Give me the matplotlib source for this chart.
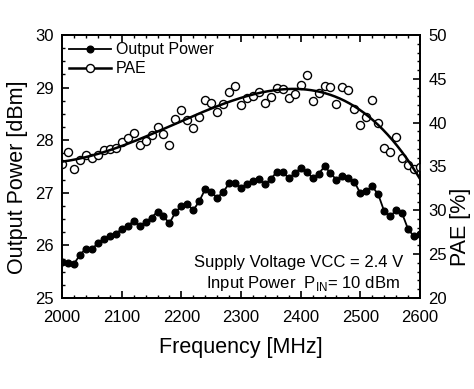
import numpy as np
import matplotlib
matplotlib.use("Agg")
import matplotlib.pyplot as plt
from matplotlib.ticker import MultipleLocator

plt.rcParams['font.family'] = ['Liberation Sans', 'DejaVu Sans']

# frequency points (MHz)
freq = list(range(2000, 2601, 10))

# output power (dBm), filled dots
pout = [25.69, 25.67, 25.65, 25.82, 25.94, 25.93, 26.04, 26.13, 26.17, 26.22,
        26.31, 26.36, 26.47, 26.37, 26.44, 26.53, 26.64, 26.55, 26.42, 26.63,
        26.75, 26.78, 26.67, 26.84, 27.07, 27.01, 26.91, 27.01, 27.18, 27.18,
        27.09, 27.17, 27.23, 27.26, 27.16, 27.26, 27.40, 27.39, 27.28, 27.37,
        27.47, 27.40, 27.28, 27.36, 27.50, 27.38, 27.24, 27.31, 27.29, 27.21,
        26.99, 27.04, 27.12, 26.97, 26.65, 26.55, 26.67, 26.61, 26.31, 26.17,
        26.22]

# PAE (%), open circles
pae = [35.3, 36.7, 34.7, 35.7, 36.3, 36.0, 36.3, 36.9, 37.0, 37.1,
       37.8, 38.2, 38.8, 37.5, 37.9, 38.6, 39.5, 38.7, 37.5, 40.4,
       41.5, 40.3, 39.4, 40.7, 42.6, 42.2, 41.2, 42.1, 43.5, 44.2,
       42.0, 42.8, 43.0, 43.5, 42.3, 42.9, 44.0, 43.8, 42.8, 43.3,
       44.3, 45.4, 42.5, 43.4, 44.2, 44.1, 42.1, 44.1, 43.7, 41.6,
       39.7, 40.6, 42.6, 40.0, 37.1, 36.6, 38.4, 36.0, 35.2, 34.7,
       34.9]

f = np.array(freq, dtype=float)
# smooth fit through the PAE points
u = (f - 2300) / 300
coef = np.polyfit(u, pae, 4)
uf = np.linspace(-1, 1, 300)
pae_fit = np.polyval(coef, uf)
f_fit = uf * 300 + 2300

fig = plt.figure(figsize=(4.74, 3.89), dpi=100)
ax = fig.add_axes([0.131, 0.234, 0.755, 0.676])
ax2 = ax.twinx()

ax.plot(f, pout, '-', color='black', lw=1.3, marker='o', ms=4.8,
        mfc='black', mec='black')
ax2.plot(f, pae, 'o', ms=5.8, mfc='white', mec='black', mew=1.0)
ax2.plot(f_fit, pae_fit, '-', color='black', lw=1.8)

ax.set_xlim(2000, 2600)
ax.set_ylim(25, 30)
ax2.set_ylim(20, 50)

ax.xaxis.set_major_locator(MultipleLocator(100))
ax.xaxis.set_minor_locator(MultipleLocator(20))
ax.yaxis.set_major_locator(MultipleLocator(1))
ax.yaxis.set_minor_locator(MultipleLocator(0.25))
ax2.yaxis.set_major_locator(MultipleLocator(5))
ax2.yaxis.set_minor_locator(MultipleLocator(1))

ax.tick_params(which='both', direction='in', top=True, labelsize=12)
ax.tick_params(which='major', length=5, width=1.2)
ax.tick_params(which='minor', length=2.5, width=1)
ax.tick_params(axis='x', which='major', pad=9)
ax.tick_params(axis='y', which='major', pad=6)
ax2.tick_params(which='both', direction='in', labelsize=12)
ax2.tick_params(which='major', length=5, width=1.2, pad=6)
ax2.tick_params(which='minor', length=2.5, width=1)
for a in (ax, ax2):
    for s in a.spines.values():
        s.set_linewidth(1.3)

ax.set_xlabel('Frequency [MHz]', fontsize=15.5, labelpad=8)
ax.set_ylabel('Output Power [dBm]', fontsize=15.5)
ax.yaxis.set_label_coords(-0.095, 0.46)
ax2.set_ylabel('PAE [%]', fontsize=15.5)
ax2.yaxis.set_label_coords(1.085, 0.27)

# legend
h1 = plt.Line2D([], [], color='black', lw=1.3, marker='o', ms=4.8, mfc='black')
h2 = plt.Line2D([], [], color='black', lw=1.8, marker='o', ms=5.8, mfc='white')
ax.legend([h1, h2], ['Output Power', 'PAE'], loc='upper left', frameon=False,
          fontsize=11.5, handlelength=2.6, borderaxespad=0.05, labelspacing=0.25,
          handletextpad=0.3)

ax.text(0.953, 0.135, 'Supply Voltage VCC = 2.4 V', transform=ax.transAxes,
        ha='right', va='center', fontsize=12)
ax.text(0.945, 0.055, r'Input Power  P$_{\mathregular{IN}}$= 10 dBm',
        transform=ax.transAxes, ha='right', va='center', fontsize=12)

fig.savefig('out.png', dpi=100)
